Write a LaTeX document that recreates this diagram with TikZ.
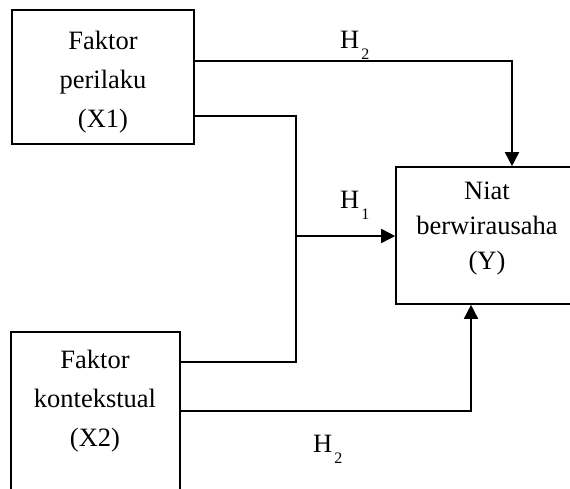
\documentclass[tikz,border=0pt]{standalone}
\usepackage{fontspec}
\setmainfont{Liberation Serif}
\usetikzlibrary{arrows.meta}
\newcommand\hyplab[1]{H\kern2pt\raisebox{-11pt}{\fontsize{16}{16}\selectfont #1}}
\tikzset{
  box/.style={draw, line width=1.6pt, inner sep=0pt},
  boxtext/.style={align=center, inner sep=0pt, anchor=north, font=\fontsize{26.5}{39}\selectfont},
  conn/.style={line width=1.6pt},
  arr/.style={conn, -{Triangle[length=14pt,width=14pt]}},
  lab/.style={inner sep=0pt, anchor=base west, font=\fontsize{26.5}{30}\selectfont}
}
\begin{document}
\begin{tikzpicture}[x=1pt,y=-1pt]
\clip (0,0) rectangle (570,488);
\fill[white] (0,0) rectangle (570,488);
% boxes
\node[box, minimum width=182pt, minimum height=134pt] (x1) at (103,77) {};
\node[box, minimum width=224pt, minimum height=137pt] (y) at (508,235.5) {};
\node[box, minimum width=169pt, minimum height=188pt] (x2) at (95.5,426) {};
% texts
\node[boxtext] (tx1) at (103,31) {Faktor\\perilaku\\(X1)};
\node[boxtext, font=\fontsize{26.5}{35}\selectfont] (ty) at (487,182) {Niat\\berwirausaha\\(Y)};
\node[boxtext] (tx2) at (95,350) {Faktor\\kontekstual\\(X2)};
% corner coordinates
\coordinate (p1) at (512,61);
\coordinate (j) at (296,116);
\coordinate (m) at (296,236);
\coordinate (q) at (296,362);
\coordinate (b) at (471,411);
% connectors
\draw[arr] (x1.east |- p1) -- (p1) -- (y.north -| p1);
\draw[conn] (x1.east |- j) -- (j) -- (q) -- (x2.east |- q);
\draw[arr] (m) -- (y.west |- m);
\draw[arr] (x2.east |- b) -- (b) -- (y.south -| b);
% labels
\node[lab] (h2a) at (340,48) {\hyplab{2}};
\node[lab] (h1) at (340,208) {\hyplab{1}};
\node[lab] (h2b) at (313,452) {\hyplab{2}};
\end{tikzpicture}
\end{document}
